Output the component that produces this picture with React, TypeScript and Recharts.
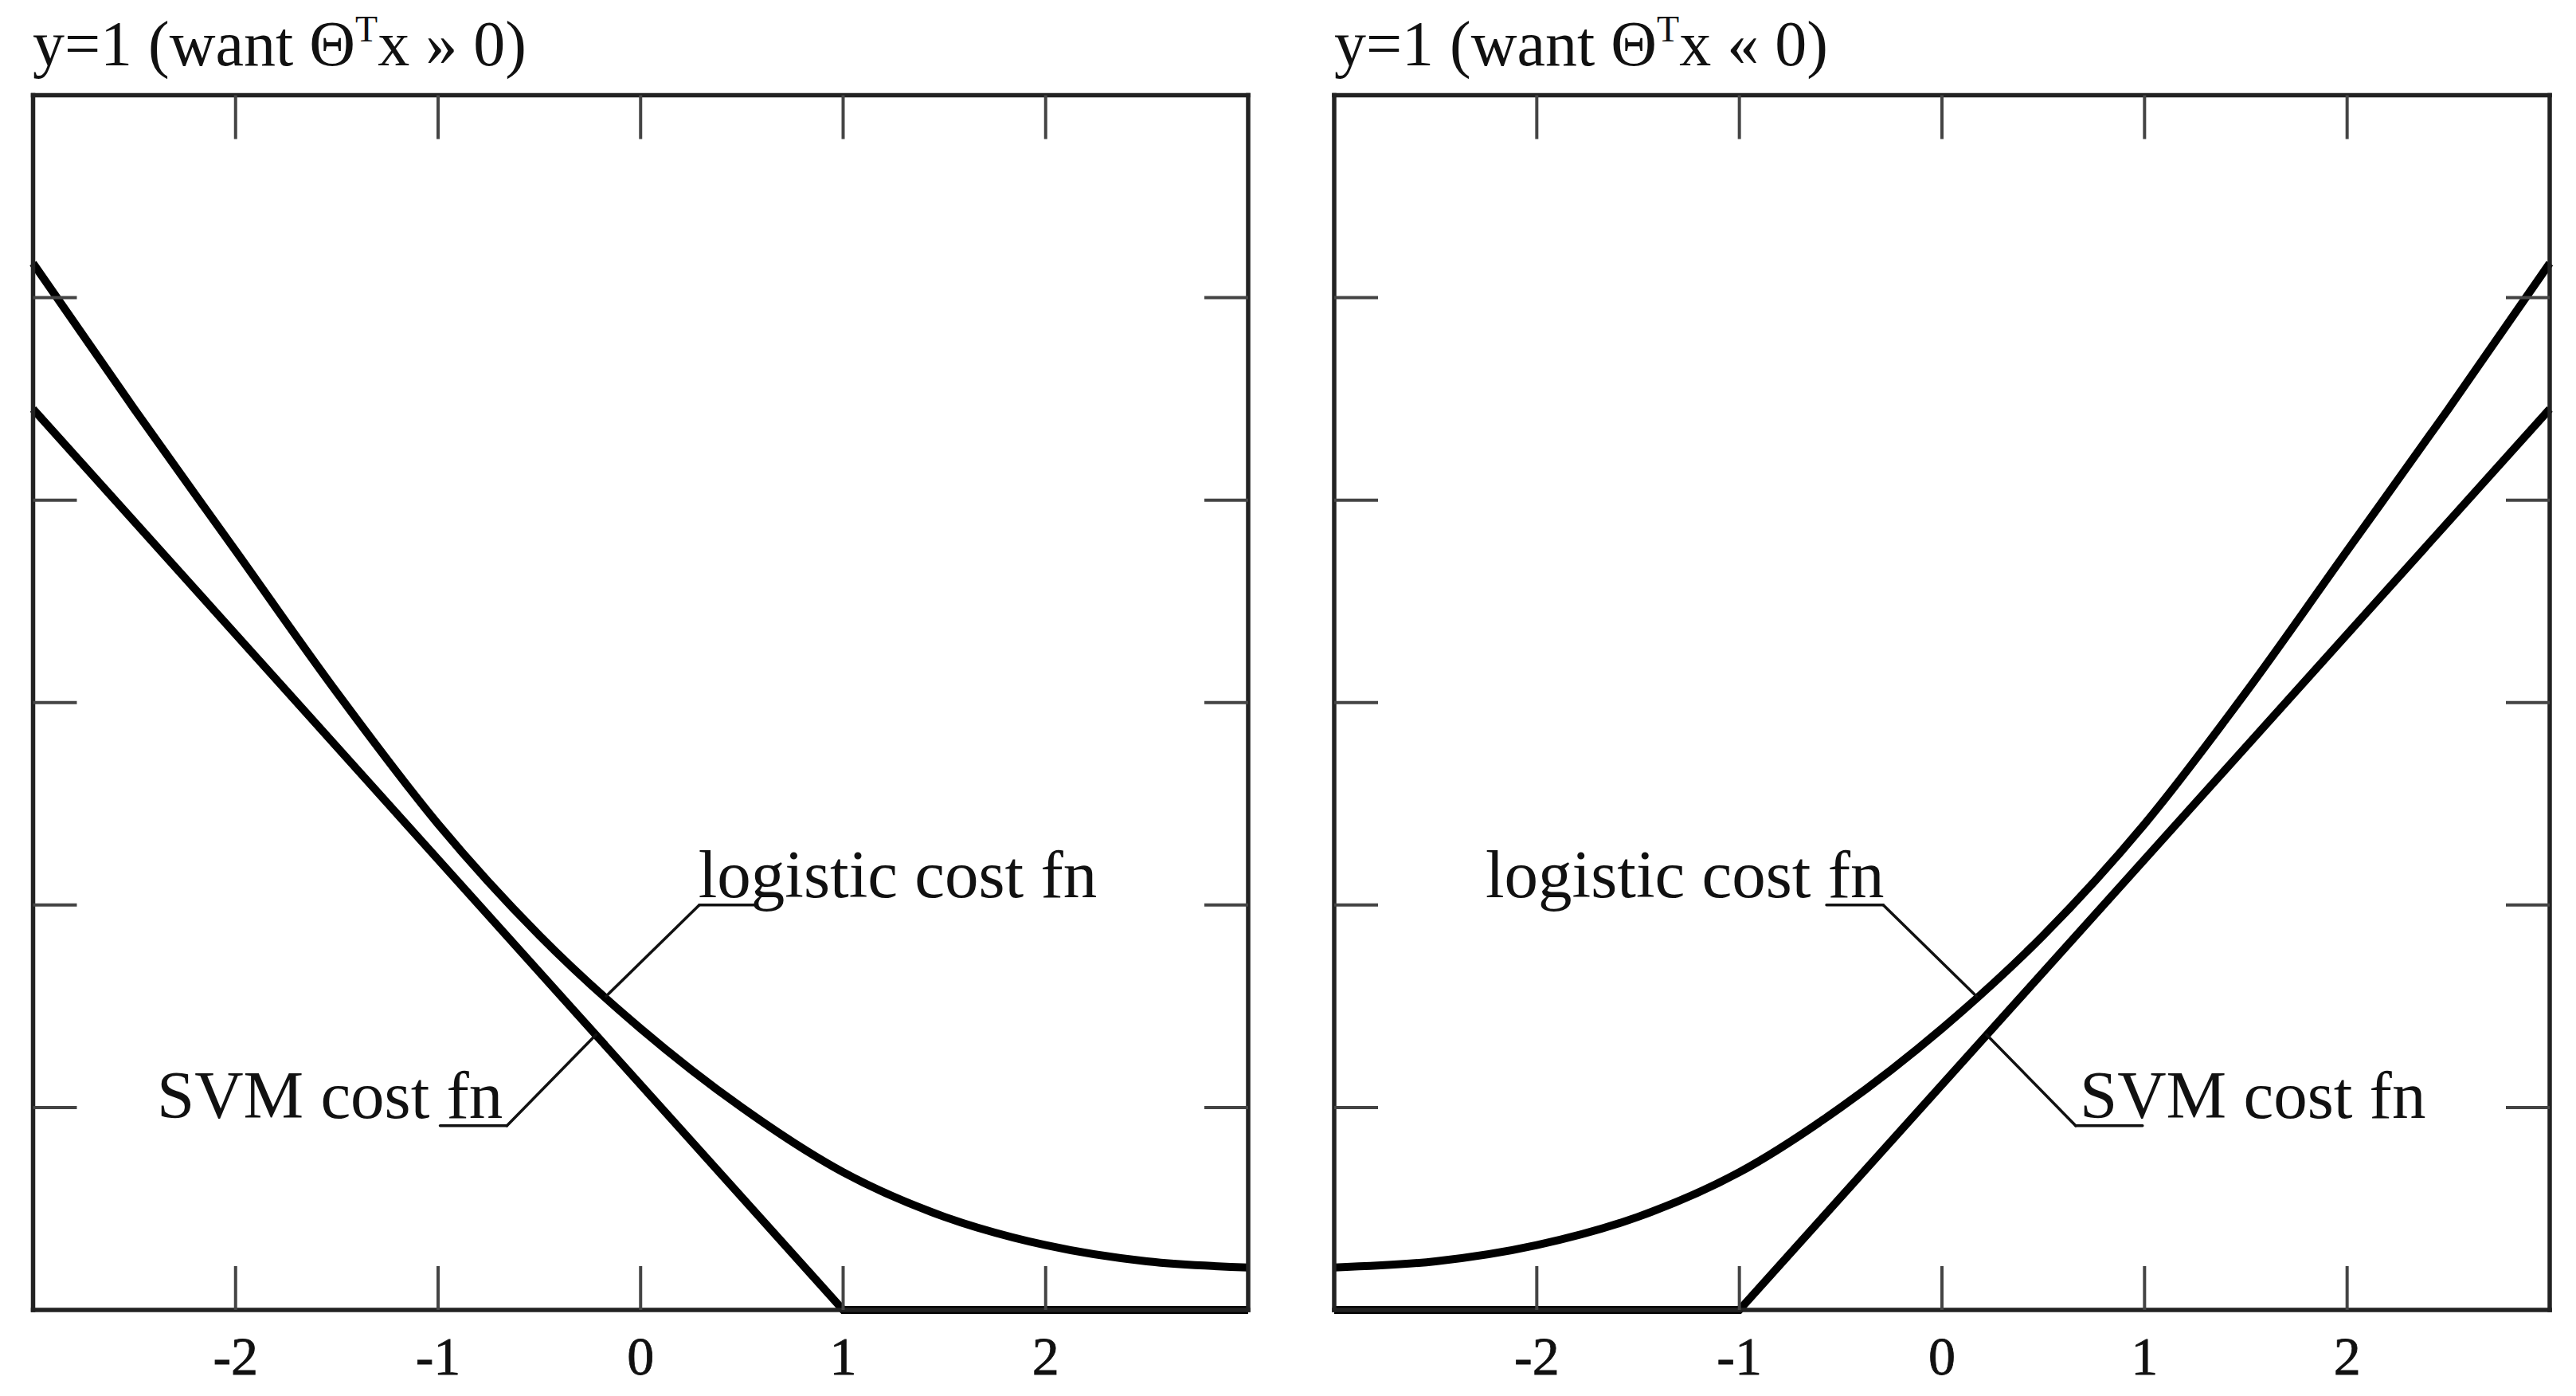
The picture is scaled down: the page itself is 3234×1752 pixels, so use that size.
import React from 'react';
import { LineChart, Line, XAxis, YAxis, ReferenceLine, ReferenceDot } from 'recharts';

// axis ticks (theta^T x on x, cost on y)
const xTicks = [-2, -1, 0, 1, 2];
const yTicks = [1, 2, 3, 4, 5];

// sampled theta^T x values for the logistic curves
const zSamples = [-3, -2.5, -2, -1.5, -1, -0.5, 0, 0.5, 1, 1.5, 2, 2.5, 3];

// left panel: y=1 (want theta^T x >> 0)
const logisticCostLeft = [5.17, 4.45, 3.75, 3.05, 2.4, 1.85, 1.39, 1.0, 0.68, 0.46, 0.32, 0.24, 0.21];
const svmKneesLeft = [-3, 1, 3];
const svmCostLeft = [4.45, 0, 0];

// right panel: want theta^T x << 0
const logisticCostRight = [0.21, 0.24, 0.32, 0.46, 0.68, 1.0, 1.39, 1.85, 2.4, 3.05, 3.75, 4.45, 5.17];
const svmKneesRight = [-3, -1, 3];
const svmCostRight = [0, 0, 4.45];

const toPoints = (zs: number[], vs: number[]) => zs.map((z, i) => ({ z, v: vs[i] }));

const FONT = '"Liberation Serif", "DejaVu Serif", serif';
const INK = '#111';

type Pt = [number, number];

interface PanelProps {
  left: number;
  marginLeft: number;
  marginRight: number;
  logistic: { z: number; v: number }[];
  svm: { z: number; v: number }[];
  logisticLeader: Pt[];
  logisticLabel: { z: number; v: number; anchor: 'start' | 'end' };
  svmLeader: Pt[];
  svmLabel: { z: number; v: number; anchor: 'start' | 'end' };
}

const boxLine = { stroke: '#222', strokeWidth: 5.5, strokeLinecap: 'square' as const };
const tickMark = { stroke: '#444', strokeWidth: 4 };
// inner tick marks only, no labels
const noLabel = () => <g />;

const leaderSegments = (pts: Pt[], key: string) =>
  pts.slice(1).map((p, i) => (
    <ReferenceLine
      key={`${key}-${i}`}
      xAxisId="b"
      yAxisId="l"
      segment={[{ x: pts[i][0], y: pts[i][1] }, { x: p[0], y: p[1] }]}
      stroke={INK}
      strokeWidth={3.5}
      strokeLinecap="round"
    />
  ));

const labelDot = (text: string, pos: { z: number; v: number; anchor: 'start' | 'end' }) => (
  <ReferenceDot
    xAxisId="b"
    yAxisId="l"
    x={pos.z}
    y={pos.v}
    r={0}
    shape={(p: any) => (
      <text x={p.cx} y={p.cy} textAnchor={pos.anchor} fontFamily={FONT} fontSize={85} fill={INK}>
        {text}
      </text>
    )}
  />
);

const Panel = (props: PanelProps) => (
  <div style={{ position: 'absolute', left: props.left, top: 0 }}>
    <LineChart
      width={1617}
      height={1752}
      margin={{ top: 118.5, right: props.marginRight, bottom: 0, left: props.marginLeft }}
    >
      <XAxis
        xAxisId="b"
        dataKey="z"
        type="number"
        orientation="bottom"
        domain={[-3, 3]}
        ticks={xTicks}
        height={108}
        tickSize={-55}
        tickMargin={88}
        axisLine={boxLine}
        tickLine={tickMark}
        tick={{ fontSize: 68, fontFamily: FONT, fill: INK, stroke: INK, strokeWidth: 0.8 }}
      />
      <XAxis
        xAxisId="t"
        dataKey="z"
        type="number"
        orientation="top"
        domain={[-3, 3]}
        allowDataOverflow
        ticks={xTicks}
        height={1}
        tickSize={-55}
        axisLine={boxLine}
        tickLine={tickMark}
        tick={noLabel}
      />
      <YAxis
        yAxisId="l"
        type="number"
        domain={[0, 6]}
        ticks={yTicks}
        width={1}
        tickSize={-55}
        axisLine={boxLine}
        tickLine={tickMark}
        tick={noLabel}
      />
      <YAxis
        yAxisId="r"
        type="number"
        orientation="right"
        domain={[0, 6]}
        allowDataOverflow
        ticks={yTicks}
        width={1}
        tickSize={-55}
        axisLine={boxLine}
        tickLine={tickMark}
        tick={noLabel}
      />
      <Line
        xAxisId="b"
        yAxisId="l"
        data={props.logistic}
        dataKey="v"
        type="monotone"
        stroke="#000"
        strokeWidth={10}
        dot={false}
        isAnimationActive={false}
      />
      <Line
        xAxisId="b"
        yAxisId="l"
        data={props.svm}
        dataKey="v"
        type="linear"
        stroke="#000"
        strokeWidth={10}
        dot={false}
        isAnimationActive={false}
      />
      {leaderSegments(props.logisticLeader, 'lg')}
      {leaderSegments(props.svmLeader, 'svm')}
      {labelDot('logistic cost fn', props.logisticLabel)}
      {labelDot('SVM cost fn', props.svmLabel)}
    </LineChart>
  </div>
);

const Title = ({ x, rel }: { x: number; rel: string }) => (
  <text x={x} y={82} fontFamily={FONT} fontSize={80} fill={INK}>
    y=1 (want Θ
    <tspan fontSize={46} dy={-30}>T</tspan>
    <tspan dy={30}>x {rel} 0)</tspan>
  </text>
);

export default function App() {
  return (
    <div style={{ position: 'absolute', left: 0, top: 0, width: 3234, height: 1752, background: '#fff' }}>
      <svg width={3234} height={110} style={{ position: 'absolute', left: 0, top: 0 }}>
        <Title x={41} rel="»" />
        <Title x={1675} rel="«" />
      </svg>
      <Panel
        left={0}
        marginLeft={40.5}
        marginRight={49}
        logistic={toPoints(zSamples, logisticCostLeft)}
        svm={toPoints(svmKneesLeft, svmCostLeft)}
        logisticLeader={[[-0.17, 1.55], [0.29, 2.0], [0.57, 2.0]]}
        logisticLabel={{ z: 0.285, v: 2.04, anchor: 'start' }}
        svmLeader={[[-0.22, 1.36], [-0.66, 0.91], [-0.99, 0.91]]}
        svmLabel={{ z: -0.68, v: 0.95, anchor: 'end' }}
      />
      <Panel
        left={1617}
        marginLeft={57}
        marginRight={32}
        logistic={toPoints(zSamples, logisticCostRight)}
        svm={toPoints(svmKneesRight, svmCostRight)}
        logisticLeader={[[0.17, 1.55], [-0.29, 2.0], [-0.57, 2.0]]}
        logisticLabel={{ z: -0.285, v: 2.04, anchor: 'end' }}
        svmLeader={[[0.22, 1.36], [0.66, 0.91], [0.99, 0.91]]}
        svmLabel={{ z: 0.68, v: 0.95, anchor: 'start' }}
      />
    </div>
  );
}
